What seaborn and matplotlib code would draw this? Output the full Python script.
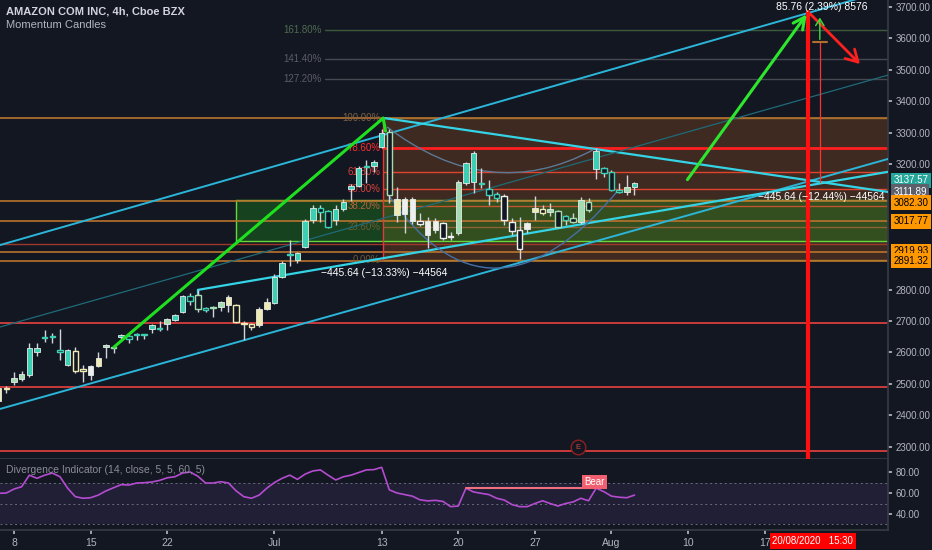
import numpy as np
import pandas as pd
import matplotlib
matplotlib.use("Agg")
import matplotlib.pyplot as plt
import seaborn as sns
from matplotlib.path import Path
from matplotlib.patches import PathPatch
from matplotlib.ticker import FormatStrFormatter

BG = "#131722"

# trading days on screen (Jul 3 closed); two 4h bars per day, Jun 8 first bar = 0
days = [d for d in pd.bdate_range("2020-06-05", "2020-08-28") if d != pd.Timestamp("2020-07-03")]

# 4h candles, Jun 5 .. Aug 4
opens = [2445, 2487, 2506, 2515, 2528, 2601, 2648, 2650, 2607, 2560,
         2605, 2547, 2528, 2557, 2617, 2617, 2650, 2652, 2655, 2658,
         2674, 2675, 2690, 2703, 2729, 2780, 2783, 2740, 2745, 2745,
         2751, 2751, 2693, 2690, 2687, 2738, 2758, 2841, 2914, 2893,
         2935, 3022, 3060, 3050, 3022, 3056, 3120, 3130, 3195, 3194,
         3254, 3302, 3037, 3040, 3018, 3018, 2974, 2990, 3011, 2970,
         2980, 3140, 3143, 3140, 3121, 3104, 3098, 3015, 2990, 2993,
         3047, 3056, 3047, 3050, 3034, 3028, 3015, 3079, 3185, 3186,
         3175, 3118, 3112, 3127]
highs = [2495, 2492, 2537, 2540, 2630, 2630, 2671, 2662, 2674, 2612,
         2617, 2560, 2560, 2601, 2627, 2620, 2660, 2657, 2662, 2659,
         2690, 2700, 2710, 2722, 2783, 2789, 2799, 2745, 2748, 2764,
         2783, 2755, 2700, 2695, 2745, 2773, 2850, 2890, 2958, 2920,
         3024, 3068, 3070, 3055, 3070, 3089, 3136, 3194, 3212, 3212,
         3310, 3310, 3126, 3095, 3095, 3044, 3031, 3028, 3015, 2983,
         3150, 3206, 3242, 3187, 3149, 3110, 3103, 3028, 3031, 3015,
         3098, 3070, 3076, 3054, 3038, 3044, 3095, 3092, 3250, 3190,
         3182, 3139, 3165, 3144]
lows = [2440, 2470, 2496, 2510, 2522, 2588, 2632, 2630, 2576, 2556,
        2534, 2506, 2512, 2553, 2582, 2598, 2644, 2630, 2640, 2644,
        2662, 2668, 2671, 2700, 2725, 2751, 2729, 2728, 2713, 2732,
        2729, 2694, 2639, 2671, 2681, 2735, 2755, 2838, 2875, 2885,
        2932, 3012, 3015, 2996, 3006, 3051, 3082, 3127, 3140, 3175,
        3250, 3076, 3015, 2980, 3010, 3003, 2933, 2980, 2958, 2958,
        2975, 3133, 3107, 3124, 3070, 3080, 3006, 2974, 2898, 2980,
        3022, 3038, 3034, 2999, 3006, 3012, 3008, 3047, 3151, 3158,
        3114, 3108, 3101, 3101]
closes = [2488, 2482, 2519, 2531, 2614, 2613, 2645, 2648, 2602, 2607,
          2540, 2540, 2557, 2582, 2625, 2613, 2655, 2643, 2654, 2656,
          2687, 2674, 2706, 2719, 2780, 2765, 2738, 2735, 2742, 2761,
          2777, 2697, 2690, 2681, 2738, 2761, 2841, 2885, 2911, 2916,
          3018, 3060, 3048, 2999, 3056, 3079, 3130, 3187, 3192, 3206,
          3298, 3100, 3088, 3089, 3088, 3010, 3018, 3018, 2965, 2968,
          3143, 3203, 3235, 3135, 3100, 3092, 3022, 2987, 2930, 3013,
          3060, 3044, 3057, 3000, 3022, 3015, 3086, 3054, 3240, 3170,
          3117, 3111, 3126, 3139]

# Divergence Indicator (RSI 14) per bar
rsi = [59.7, 60, 63.8, 66, 77, 74, 77, 79, 75.5, 64.6,
       56.5, 55, 55.5, 58, 62, 65, 68, 67.6, 69.5, 69.8,
       70.5, 72, 74.5, 75.5, 79, 80, 76, 69.5, 69.5, 70.8,
       69.5, 62, 56.5, 55, 58, 64.6, 70, 74, 77, 73,
       78, 81, 82, 77, 72.4, 75.5, 77, 79.5, 82, 82.3,
       84.5, 63, 60, 58.5, 57, 53.5, 52.5, 53, 52, 47,
       47.6, 64.6, 61, 59.7, 58.5, 55, 53.3, 49, 47, 47,
       50, 52.6, 50, 47.6, 50, 51.5, 55, 52.6, 64.6, 61.3,
       57, 56, 55.5, 58]
bear_from, bear_to = 59, 76

tick_days = ["2020-06-08", "2020-06-15", "2020-06-22", "2020-07-01", "2020-07-13",
             "2020-07-20", "2020-07-27", "2020-08-03", "2020-08-10", "2020-08-17"]
tick_text = ["8", "15", "22", "Jul", "13", "20", "27", "Aug", "10", "17"]
cursor_x = 103.7
cursor_text = "20/08/2020   15:30"

# drawings (bar, price)
upper_channel = [(-1.8, 2942), (114.1, 3754)]
lower_channel = [(-1.8, 2420), (114.1, 3216)]
support_line = [(24.0, 2799), (114.1, 3175)]
support_stub = [(24.0, 2780), (24.0, 2799)]
triangle_top = [(48.4, 3346), (114.1, 3111)]
thin_trend = [(-1.8, 2681), (114.1, 3483)]
rally_arrow = [(13.05, 2617), (48.2, 3346)]
rally_tip = [(48.2, 3346), (48.5, 3305)]
target_arrow = [(87.7, 3143), (103.7, 3684)]
drop_arrow = [(103.7, 3684), (110.7, 3512)]
upper_arc = [(48.7, 3318), (62.1, 3069), (75.6, 3245)]
lower_arc = [(48.7, 3108), (62.1, 2624), (78.9, 3117)]
measure_x = 105.2
measure_top, measure_mid, measure_bottom = 3675, 3588, 3142

fib_low, fib_high = 2894, 3346.5
fib_start = 48.2
ext_start = 40.6
fib_ratios = [0, 0.236, 0.382, 0.5, 0.618, 0.786, 1.0, 1.272, 1.414, 1.618]
fib_names = ["0.00%", "23.60%", "38.20%", "50.00%", "61.80%", "78.60%", "100.00%",
             "127.20%", "141.40%", "161.80%"]
fib_colors = ["#b07a2a", "#8e6232", "#c0552e", "#e0442e", "#e0442e", "#ff1f1f",
              "#a8702e", "#454950", "#454950", "#3d5a3d"]
fib_text_colors = ["#6e5a34", "#6e5a34", "#b8643a", "#d8433a", "#d8433a", "#ff3030",
                   "#7c6044", "#5a5d64", "#5a5d64", "#4f6a4f"]

red_levels = [2693, 2490, 2286]
orange_levels = [3346.5, 3082.30, 3017.77, 2919.93, 2891.32]
brown_levels = [2945]
green_zone = (29.0, 2954.7, 3085.3)

price_tags = ["3137.57", "3111.89", "3082.30", "3017.77", "2919.93", "2891.32"]
tag_prices = [3137.57, 3111.89, 3082.30, 3017.77, 2919.93, 2891.32]
tag_shift = [11, 0, -6, 0, 2, 0]
tag_bg = ["#26a69a", "#5d606b", "#ff9800", "#ff9800", "#ff9800", "#ff9800"]
tag_fg = ["white", "white", "black", "black", "black", "black"]

# ---------------------------------------------------------------
sns.set_theme(style="dark", rc={"axes.facecolor": BG, "figure.facecolor": BG,
                                "axes.edgecolor": "#363a45"})
plt.rcParams["font.family"] = ["Liberation Sans", "DejaVu Sans"]

fig = plt.figure(figsize=(9.32, 5.5), dpi=100)
ax = fig.add_axes([0, 91 / 550, 888 / 932, 459 / 550])
ax2 = fig.add_axes([0, 20 / 550, 888 / 932, 71 / 550], sharex=ax)
xmin, xmax = -1.83, 114.1

df = pd.DataFrame({"o": opens, "h": highs, "l": lows, "c": closes})
df["bar"] = np.arange(len(df)) - 2
mom = df["c"] - df["c"].shift(6).bfill()
palette = np.where(mom > 60, "#3ccfb4", np.where(mom > 0, "#a2dcb0",
                   np.where(mom > -80, "#efe9b4", "#eeeeee")))

# zones
ax.fill_between([fib_start, xmax], fib_low, fib_high, color="#c8691c", alpha=0.24, lw=0, zorder=1)
ax.fill_between([green_zone[0], xmax], green_zone[1], green_zone[2], color="#1e9a1e", alpha=0.33, lw=0, zorder=1)
for yv in green_zone[1:]:
    ax.plot([green_zone[0], xmax], [yv, yv], color="#66d83a", lw=1, zorder=2)
ax.plot([green_zone[0], green_zone[0]], green_zone[1:], color="#66d83a", lw=1, zorder=2)

for lv in red_levels:
    ax.axhline(lv, color="#e84040", lw=1.2, zorder=2)
for lv in orange_levels:
    ax.axhline(lv, color="#b8732e", lw=1.2, zorder=2)
for lv in brown_levels:
    ax.axhline(lv, color="#9c3a2a", lw=1, zorder=2)

for r, name, col, tcol in zip(fib_ratios, fib_names, fib_colors, fib_text_colors):
    lv = fib_low + r * (fib_high - fib_low)
    start = ext_start if r > 1 else fib_start
    ax.plot([start, xmax], [lv, lv], color=col, lw=2 if r == 0.786 else 1, zorder=2)
    ax.text(start - 0.4, lv, name, color=tcol, fontsize=7, ha="right", va="center", zorder=3)
ax.plot([fib_start, fib_start], [fib_low, fib_high], color="#e53935", lw=1, zorder=2)

# trend lines
for seg, col, lw in [(upper_channel, "#2bb5d8", 1.4), (lower_channel, "#2bb5d8", 1.4),
                     (support_line, "#34d4e6", 1.6), (support_stub, "#34d4e6", 1.6),
                     (triangle_top, "#34d4e6", 1.6), (thin_trend, "#1f6a78", 0.9)]:
    xs, ys = zip(*seg)
    ax.plot(xs, ys, color=col, lw=lw, zorder=3)

for pts, col in [(upper_arc, "#5a7896"), (lower_arc, "#4570a8")]:
    path = Path(pts, [Path.MOVETO, Path.CURVE3, Path.CURVE3])
    ax.add_patch(PathPatch(path, fill=False, ec=col, lw=1, zorder=3))

# candles
wick_lo = np.minimum(df["l"], np.minimum(df["o"], df["c"]))
wick_hi = np.maximum(df["h"], np.maximum(df["o"], df["c"]))
ax.vlines(df["bar"], wick_lo, wick_hi, color="#d1d4dc", lw=1, zorder=4)
up = df["c"] >= df["o"]
bottoms = np.minimum(df["o"], df["c"])
heights = np.maximum((df["c"] - df["o"]).abs(), 3)
ax.bar(df["bar"][up], heights[up], bottom=bottoms[up], width=0.72,
       color=palette[up.values], edgecolor="#e6ece8", linewidth=0.6, zorder=5)
ax.bar(df["bar"][~up], heights[~up], bottom=bottoms[~up], width=0.72,
       color=BG, edgecolor=palette[(~up).values], linewidth=1, zorder=5)

# arrows and cursor
xs, ys = zip(*rally_arrow)
ax.plot(xs, ys, color="#1fe01f", lw=2.2, zorder=6)
xs, ys = zip(*rally_tip)
ax.plot(xs, ys, color="#1fe01f", lw=2.2, zorder=6)
ax.plot([cursor_x, cursor_x], [2200, target_arrow[1][1]], color="#ff1010", lw=3, zorder=5)
ax.annotate("", xy=target_arrow[1], xytext=target_arrow[0], zorder=7,
            arrowprops=dict(arrowstyle="->,head_length=0.7,head_width=0.35", color="#2ee62e", lw=2.2))
ax.annotate("", xy=drop_arrow[1], xytext=drop_arrow[0], zorder=7,
            arrowprops=dict(arrowstyle="->,head_length=0.7,head_width=0.4", color="#ff2020", lw=2))
ax.plot([measure_x, measure_x], [measure_bottom, measure_mid], color="#ff3030", lw=0.9, zorder=6)
ax.annotate("", xy=(measure_x, measure_top), xytext=(measure_x, measure_mid), zorder=7,
            arrowprops=dict(arrowstyle="->,head_length=0.4,head_width=0.25", color="#3ee03e", lw=1))
ax.plot([measure_x - 0.9, measure_x + 0.9], [measure_mid, measure_mid], color="#b0702e", lw=1.5, zorder=6)

ax.text(measure_x + 0.3, 3700, "85.76 (2.39%) 8576", color="white", fontsize=7.5, ha="center", va="center", zorder=8)
ax.text(measure_x + 0.15, 3095, "\u2212445.64 (\u221212.44%) \u221244564", color="white", fontsize=7.5,
        ha="center", va="center", zorder=8)
ax.text(48.3, 2853, "\u2212445.64 (\u221213.33%) \u221244564", color="white", fontsize=7.5,
        ha="center", va="center", zorder=8)

ax.scatter([73.6], [2298], s=110, facecolor=BG, edgecolor="#8e2020", lw=1, zorder=6)
ax.text(73.6, 2298, "E", color="#d04848", fontsize=5.5, ha="center", va="center", zorder=7)

ax.text(0.007, 0.985, "AMAZON COM INC, 4h, Cboe BZX", transform=ax.transAxes, color="#d1d4dc",
        fontsize=8, fontweight="bold", va="top")
ax.text(0.007, 0.957, "Momentum Candles", transform=ax.transAxes, color="#b2b5be", fontsize=8, va="top")

ax.set_xlim(xmin, xmax)
ax.set_ylim(2260.4, 3722.3)
ax.yaxis.tick_right()
ax.set_yticks([p for p in range(2300, 3701, 100) if p not in (2900, 3000, 3100)])
ax.yaxis.set_major_formatter(FormatStrFormatter("%.2f"))
ax.tick_params(axis="y", colors="#b2b5be", labelsize=7, length=3, pad=2.5, right=True, left=False)
ax.tick_params(axis="x", bottom=False, labelbottom=False)
for s in ["top", "left"]:
    ax.spines[s].set_visible(False)
ax.spines["right"].set_color("#363a45")
ax.spines["bottom"].set_color("#363a45")
ax.set_xlabel("")
ax.set_ylabel("")

ytr = ax.get_yaxis_transform()
for txt, p, sh, bgc, fgc in zip(price_tags, tag_prices, tag_shift, tag_bg, tag_fg):
    ax.text(1.006, p + sh, txt, transform=ytr, color=fgc, fontsize=7, ha="left", va="center",
            clip_on=False, zorder=10,
            bbox=dict(boxstyle="square,pad=0.25", fc=bgc, ec="none"))

# indicator pane
ax2.axhspan(30, 70, color="#7e57c2", alpha=0.13, lw=0)
for lv in [70, 50, 30]:
    ax2.axhline(lv, color="#6a6d78", lw=0.7, ls=(0, (2, 3)))
ind = pd.DataFrame({"bar": df["bar"], "rsi": rsi})
sns.lineplot(data=ind, x="bar", y="rsi", ax=ax2, color="#b44cd0", lw=1.2)
seg = ind[ind["bar"].isin([bear_from, bear_to])]
ax2.plot(seg["bar"], seg["rsi"], color="#f07080", lw=1.5)
ax2.text(ind["bar"].iloc[bear_to + 2] - 0.2, 70.5, "Bear", color="white", fontsize=7, ha="center", va="center",
         bbox=dict(boxstyle="square,pad=0.2", fc="#f06070", ec="none"))
ax2.text(0.007, 0.84, "Divergence Indicator (14, close, 5, 5, 60, 5)", transform=ax2.transAxes,
         color="#8a8d96", fontsize=7.5, va="center")
ax2.set_ylim(24.76, 92.4)
ax2.yaxis.tick_right()
ax2.set_yticks([40, 60, 80])
ax2.yaxis.set_major_formatter(FormatStrFormatter("%.2f"))
ax2.tick_params(axis="y", colors="#b2b5be", labelsize=7, length=3, pad=2.5, right=True, left=False)

day_pos = {d: 2 * i - 2 for i, d in enumerate(days)}
ax2.set_xticks([day_pos[pd.Timestamp(d)] for d in tick_days])
ax2.set_xticklabels(tick_text)
ax2.tick_params(axis="x", colors="#b2b5be", labelsize=7.5, length=3, pad=3, bottom=True)
for s in ["top", "left"]:
    ax2.spines[s].set_visible(False)
ax2.spines["right"].set_color("#363a45")
ax2.spines["bottom"].set_color("#363a45")
ax2.set_xlabel("")
ax2.set_ylabel("")
ax2.set_xlim(xmin, xmax)
ax2.text(cursor_x + 0.6, -0.16, cursor_text, transform=ax2.get_xaxis_transform(), color="white", fontsize=7,
         ha="center", va="center", clip_on=False, zorder=10,
         bbox=dict(boxstyle="square,pad=0.3", fc="#ff0000", ec="none"))

fig.savefig("out.png", dpi=100, facecolor=BG)
